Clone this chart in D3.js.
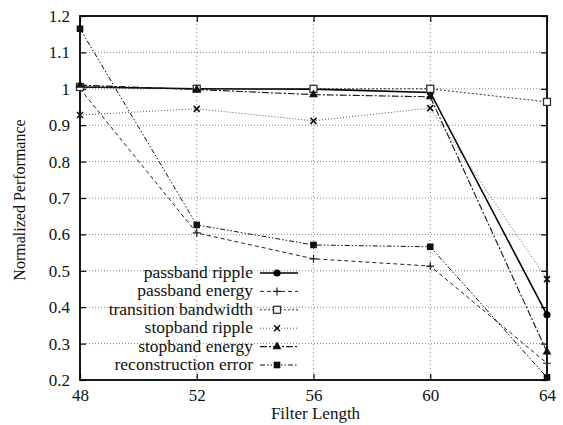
<!DOCTYPE html>
<html>
<head>
<meta charset="utf-8">
<script src="https://cdn.jsdelivr.net/npm/d3@7"></script>
<style>
  body { margin: 0; background: #fff; }
  svg text { font-family: "Liberation Serif", Tinos, "Times New Roman", "DejaVu Serif", serif !important; fill: #111; }
</style>
</head>
<body>
<div id="chart"></div>
<script>
// data
var filterLengths = [48, 52, 56, 60, 64];
var xTicks = [48, 52, 56, 60, 64];
var yTicks = [0.2, 0.3, 0.4, 0.5, 0.6, 0.7, 0.8, 0.9, 1, 1.1, 1.2];

var passbandRipple = [1.005, 1.0, 0.999, 0.99, 0.379];
var passbandEnergy = [1.0, 0.604, 0.533, 0.513, 0.246];
var transitionBandwidth = [1.005, 1.0, 1.0, 1.0, 0.964];
var stopbandRipple = [0.928, 0.945, 0.912, 0.947, 0.477];
var stopbandEnergy = [1.01, 0.998, 0.984, 0.978, 0.277];
var reconstructionError = [1.165, 0.626, 0.571, 0.566, 0.207];

var seriesNames = ["passband ripple", "passband energy", "transition bandwidth",
  "stopband ripple", "stopband energy", "reconstruction error"];

var series = [
  { name: seriesNames[0], values: passbandRipple, dash: null, marker: "circle", color: "#000", w: 1.6 },
  { name: seriesNames[1], values: passbandEnergy, dash: "4,3", marker: "plus", color: "#222", w: 1 },
  { name: seriesNames[2], values: transitionBandwidth, dash: "2,2", marker: "square", color: "#333", w: 1 },
  { name: seriesNames[3], values: stopbandRipple, dash: "1,2", marker: "cross", color: "#555", w: 1 },
  { name: seriesNames[4], values: stopbandEnergy, dash: "7,2,2,2", marker: "triangle", color: "#111", w: 1.1 },
  { name: seriesNames[5], values: reconstructionError, dash: "5,2,1.5,2,1.5,2", marker: "fsquare", color: "#111", w: 1 }
];

var margin = { top: 16, right: 16, bottom: 45, left: 80 };
var width = 563 - margin.left - margin.right;
var height = 425 - margin.top - margin.bottom;

var svg = d3.select("#chart")
  .append("svg")
  .attr("width", 563)
  .attr("height", 425)
  .append("g")
  .attr("transform", "translate(" + margin.left + "," + margin.top + ")");

var x = d3.scaleLinear().domain([48, 64]).range([0, width]);
var y = d3.scaleLinear().domain([0.2, 1.2]).range([height, 0]);

// grid
svg.append("g").selectAll("line.hg")
  .data(yTicks.slice(1, -1))
  .enter().append("line")
  .attr("x1", 0).attr("x2", width)
  .attr("y1", d => y(d)).attr("y2", d => y(d))
  .style("stroke", "#666").style("stroke-width", 0.8)
  .style("stroke-dasharray", "1,2");

svg.append("g").selectAll("line.vg")
  .data(xTicks.slice(1, -1))
  .enter().append("line")
  .attr("x1", d => x(d)).attr("x2", d => x(d))
  .attr("y1", 0).attr("y2", height)
  .style("stroke", "#666").style("stroke-width", 0.8)
  .style("stroke-dasharray", "1,3");

// axes (inward ticks, mirrored)
var xAxis = d3.axisBottom(x).tickValues(xTicks).tickSize(-6).tickPadding(9).tickFormat(d3.format("d"));
var yAxis = d3.axisLeft(y).tickValues(yTicks).tickSize(-6).tickPadding(10).tickFormat(d => d === 1 ? "1" : d3.format(".1f")(d));

var gx = svg.append("g").attr("transform", "translate(0," + height + ")").call(xAxis);
var gy = svg.append("g").call(yAxis);
svg.append("g").call(d3.axisTop(x).tickValues(xTicks).tickSize(-6).tickFormat(""));
svg.append("g").attr("transform", "translate(" + width + ",0)")
  .call(d3.axisRight(y).tickValues(yTicks).tickSize(-6).tickFormat(""));

svg.selectAll(".domain").remove();
svg.selectAll(".tick line").style("stroke", "#000").style("stroke-width", 1.2);
gx.selectAll("text").style("font-size", "17px");
gy.selectAll("text").style("font-size", "17px");

svg.append("rect")
  .attr("width", width).attr("height", height)
  .style("fill", "none").style("stroke", "#000").style("stroke-width", 1.8);

svg.append("text")
  .attr("x", width / 2 + 2).attr("y", height + 39)
  .attr("text-anchor", "middle")
  .style("font-size", "17px")
  .text("Filter Length");

svg.append("text")
  .attr("transform", "translate(" + (-55) + "," + (height / 2 + 2) + ") rotate(-90)")
  .attr("text-anchor", "middle")
  .style("font-size", "16px")
  .text("Normalized Performance");

function drawMarker(g, type, cx, cy, color) {
  if (type === "circle") {
    g.append("circle").attr("cx", cx).attr("cy", cy).attr("r", 3.6).style("fill", color);
  } else if (type === "plus") {
    g.append("path").attr("d", "M" + (cx - 4) + "," + cy + "H" + (cx + 4) + "M" + cx + "," + (cy - 4) + "V" + (cy + 4))
      .style("stroke", color).style("stroke-width", 1.2);
  } else if (type === "square") {
    g.append("rect").attr("x", cx - 3.5).attr("y", cy - 3.5).attr("width", 7).attr("height", 7)
      .style("fill", "#fff").style("stroke", color).style("stroke-width", 1.3);
  } else if (type === "cross") {
    g.append("path").attr("d", "M" + (cx - 3) + "," + (cy - 3) + "L" + (cx + 3) + "," + (cy + 3) +
      "M" + (cx - 3) + "," + (cy + 3) + "L" + (cx + 3) + "," + (cy - 3))
      .style("stroke", "#111").style("stroke-width", 1.6);
  } else if (type === "triangle") {
    g.append("path").attr("d", d3.symbol().type(d3.symbolTriangle).size(34)())
      .attr("transform", "translate(" + cx + "," + cy + ")").style("fill", color);
  } else if (type === "fsquare") {
    g.append("rect").attr("x", cx - 3.3).attr("y", cy - 3.3).attr("width", 6.6).attr("height", 6.6)
      .style("fill", color);
  }
}

var line = d3.line()
  .x((d, i) => x(filterLengths[i]))
  .y(d => y(d));

series.forEach(function(s) {
  var g = svg.append("g");
  g.append("path")
    .attr("d", line(s.values))
    .style("fill", "none")
    .style("stroke", s.color)
    .style("stroke-width", s.w)
    .style("stroke-dasharray", s.dash);
  s.values.forEach(function(v, i) {
    drawMarker(g, s.marker, x(filterLengths[i]), y(v), s.color);
  });
});

// legend
var legend = svg.append("g").attr("transform", "translate(" + (253 - margin.left) + "," + (273 - margin.top) + ")");
series.forEach(function(s, i) {
  var row = legend.append("g").attr("transform", "translate(0," + (i * 18.4) + ")");
  row.append("text")
    .attr("x", 0).attr("y", 5)
    .attr("text-anchor", "end")
    .style("font-size", "17.5px")
    .text(s.name);
  row.append("path")
    .attr("d", "M7,0H45")
    .style("stroke", s.color)
    .style("stroke-width", s.w)
    .style("stroke-dasharray", s.dash);
  drawMarker(row, s.marker, 24, 0, s.color);
});
</script>
</body>
</html>
